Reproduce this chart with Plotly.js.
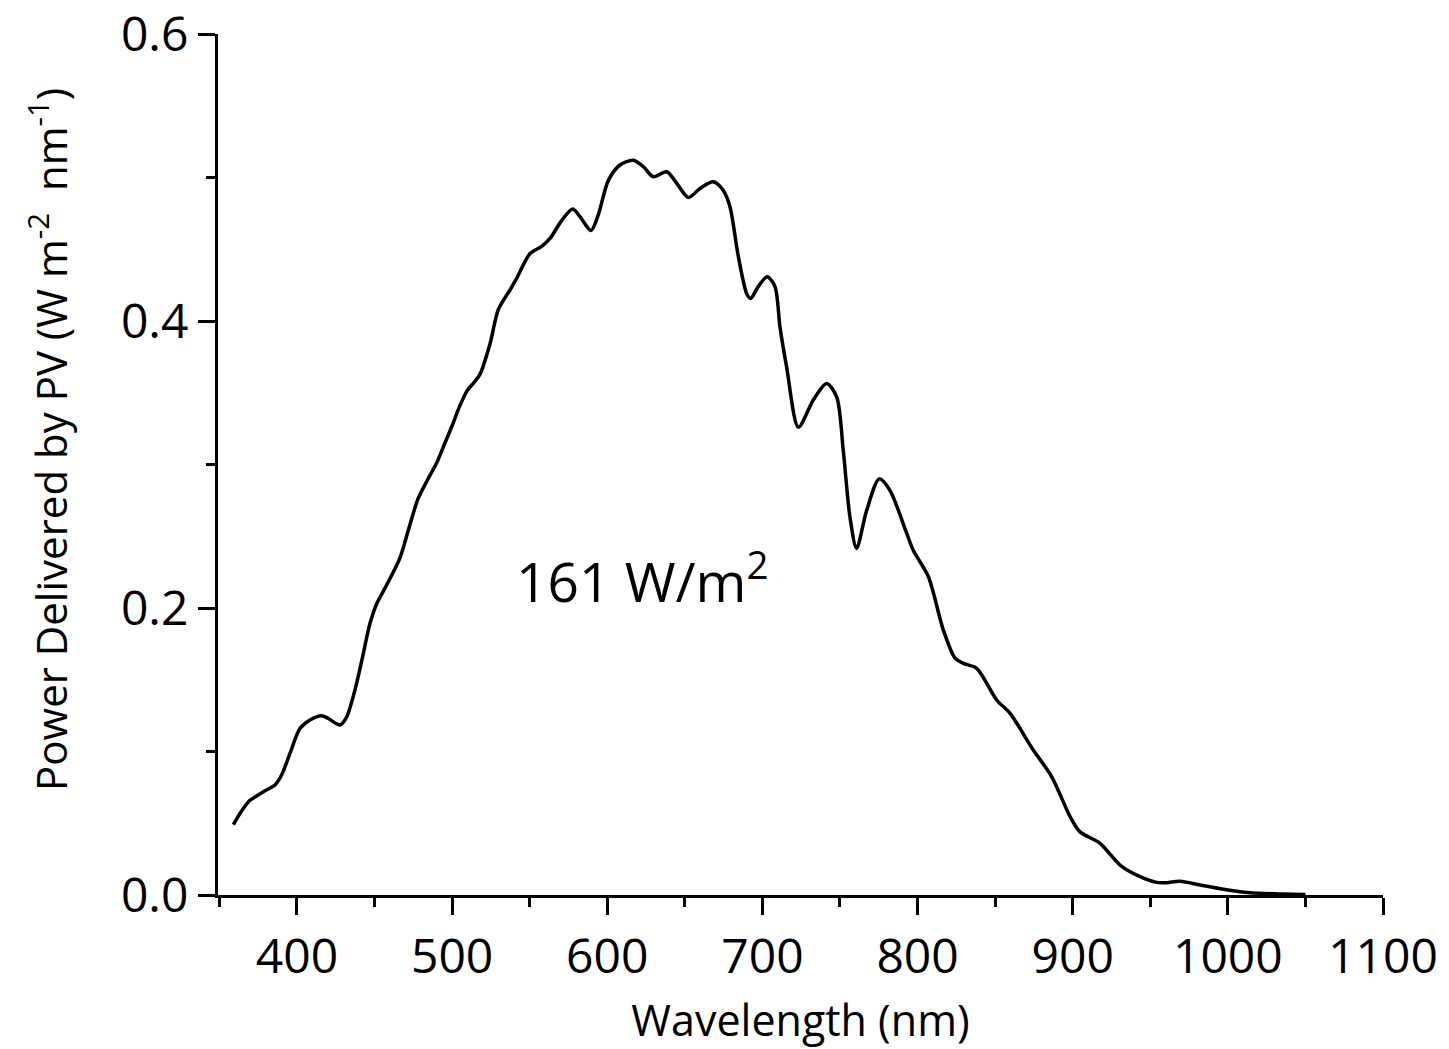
<!DOCTYPE html>
<html>
<head>
<meta charset="utf-8">
<script src="https://cdn.plot.ly/plotly-3.0.1.min.js"></script>
<style>html,body{margin:0;padding:0;background:#fff;}#chart{width:1449px;height:1049px;}</style>
</head>
<body>
<div id="chart"></div>
<script>
const wavelength = [359, 364, 369.7, 374, 378.3, 385.8, 390.1, 395.5, 401.9, 408.4, 415.9, 420.2, 427.7, 432, 437.4, 442.7, 447, 451.4, 457.8, 466.4, 472, 478, 484, 490, 495, 500, 505, 510, 514, 518, 524.4, 529.8, 537.3, 541.6, 550.2, 557.7, 563.1, 570.6, 577.7, 582.4, 589.5, 594.2, 600.7, 608.2, 616.8, 623.3, 629.7, 638.3, 644.8, 652.3, 659.8, 668.4, 674.8, 679.1, 684.5, 689.9, 692.4, 697.3, 703.1, 708.1, 711.3, 715.6, 723.2, 732.8, 741.4, 747.9, 752.1, 756.4, 760.7, 767.2, 775.3, 782.2, 793, 797.3, 807, 816.6, 824.2, 829.5, 838.1, 851, 859.6, 874.6, 886.5, 898.3, 904.7, 917.6, 930.5, 943.4, 954.1, 960.6, 969.2, 982, 997.1, 1014.3, 1035.8, 1050];
const power = [0.049, 0.058, 0.066, 0.069, 0.072, 0.0767, 0.0836, 0.0987, 0.116, 0.122, 0.125, 0.123, 0.1185, 0.124, 0.143, 0.168, 0.189, 0.203, 0.216, 0.235, 0.255, 0.276, 0.289, 0.301, 0.314, 0.327, 0.341, 0.352, 0.357, 0.363, 0.384, 0.408, 0.4216, 0.4297, 0.447, 0.452, 0.4575, 0.470, 0.478, 0.4727, 0.463, 0.474, 0.498, 0.5087, 0.512, 0.5075, 0.5005, 0.504, 0.4959, 0.486, 0.4924, 0.497, 0.491, 0.4796, 0.4448, 0.419, 0.4157, 0.424, 0.4308, 0.424, 0.396, 0.368, 0.326, 0.345, 0.3565, 0.347, 0.310, 0.2636, 0.2415, 0.268, 0.290, 0.282, 0.252, 0.240, 0.2218, 0.1847, 0.165, 0.1614, 0.158, 0.1359, 0.1266, 0.101, 0.0824, 0.0546, 0.044, 0.036, 0.0209, 0.0128, 0.0088, 0.0086, 0.0095, 0.007, 0.004, 0.0016, 0.0007, 0.0004];
const xTickVals = [400, 500, 600, 700, 800, 900, 1000, 1100];
const yTickVals = [0, 0.2, 0.4, 0.6];
const yTickText = ['0.0', '0.2', '0.4', '0.6'];
const xTitle = 'Wavelength (nm)';
const yTitle = 'Power Delivered by PV (W m<sup>-2</sup>  nm<sup>-1</sup>)';
const annotationText = '161 W/m<sup>2</sup>';

const FONT = 'Open Sans, Lato, sans-serif';
const trace = {
  x: wavelength, y: power, type: 'scatter', mode: 'lines',
  line: {color: '#000', width: 3.5, shape: 'spline', smoothing: 0.8},
  hoverinfo: 'skip'
};
const layout = {
  width: 1449, height: 1049,
  margin: {l: 218, r: 66, t: 34, b: 154},
  paper_bgcolor: '#fff', plot_bgcolor: '#fff',
  showlegend: false,
  font: {family: FONT, color: '#000'},
  xaxis: {
    range: [349.1, 1100], tickvals: xTickVals, ticks: 'outside', ticklen: 17, tickwidth: 3, tickcolor: '#000',
    showline: true, linewidth: 3, linecolor: '#000', showgrid: false, zeroline: false,
    tickfont: {size: 48, family: FONT, color: '#000'}, ticklabeloverflow: 'allow',
    minor: {dtick: 50, tick0: 350, ticks: 'outside', ticklen: 9, tickwidth: 3, tickcolor: '#000', showgrid: false},
    title: {text: xTitle, font: {size: 43, family: FONT, color: '#000'}, standoff: 22}
  },
  yaxis: {
    range: [0, 0.6], tickvals: yTickVals, ticktext: yTickText, ticks: 'outside', ticklen: 17, tickwidth: 3, tickcolor: '#000',
    showline: true, linewidth: 3, linecolor: '#000', showgrid: false, zeroline: false,
    tickfont: {size: 48, family: FONT, color: '#000'}, ticklabeloverflow: 'allow',
    minor: {dtick: 0.1, tick0: 0, ticks: 'outside', ticklen: 9, tickwidth: 3, tickcolor: '#000', showgrid: false}
  },
  annotations: [{
    x: 623, y: 0.221, xref: 'x', yref: 'y', text: annotationText, showarrow: false,
    font: {size: 55, family: FONT, color: '#000'}
  }, {
    x: -0.146, y: 0.5296, xref: 'paper', yref: 'paper', text: yTitle, showarrow: false, textangle: -90,
    xanchor: 'center', yanchor: 'middle',
    font: {size: 42, family: FONT, color: '#000'}
  }]
};
Plotly.newPlot('chart', [trace], layout, {displayModeBar: false, staticPlot: true});
</script>
</body>
</html>
